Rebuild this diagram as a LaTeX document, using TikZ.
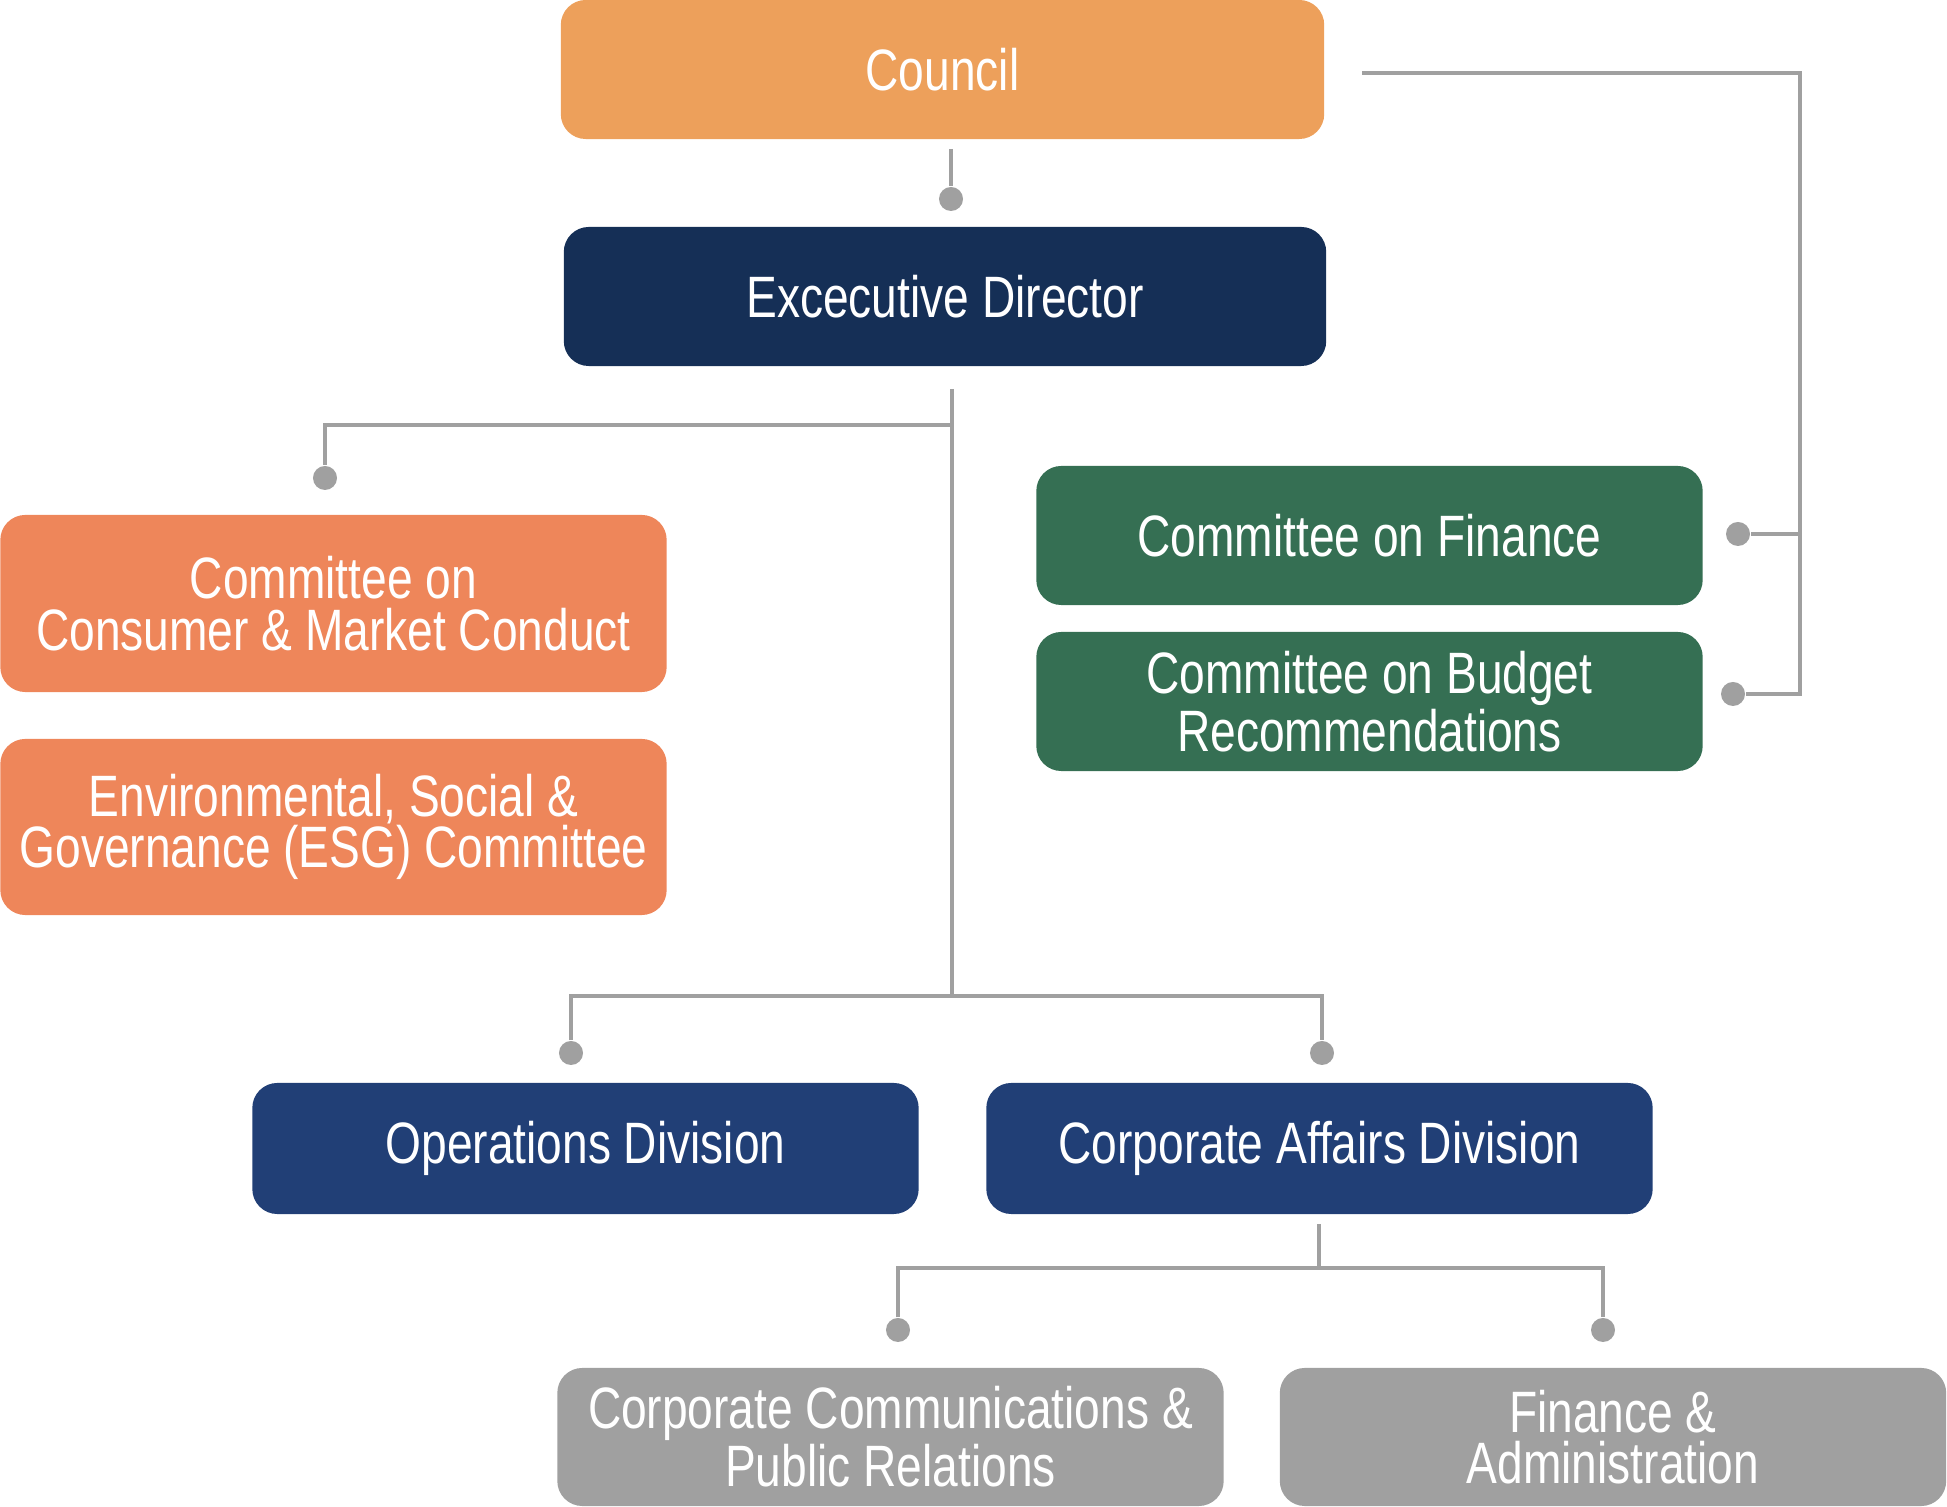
\documentclass[tikz,border=0pt]{standalone}
\usepackage{fontspec}
\setmainfont{Liberation Sans}[FakeStretch=0.79]
\usetikzlibrary{positioning}
\definecolor{councilorange}{HTML}{EDA05B}
\definecolor{execnavy}{HTML}{152F56}
\definecolor{cmteorange}{HTML}{EE865A}
\definecolor{cmtegreen}{HTML}{356F53}
\definecolor{divblue}{HTML}{213F76}
\definecolor{unitgrey}{HTML}{A0A0A0}
\definecolor{linegrey}{HTML}{A0A0A0}
\begin{document}
\begin{tikzpicture}[
		x=0.01cm, y=-0.01cm,
		box/.style={
			rounded corners=0.25cm,
			align=center,
			text=white,
			inner sep=0pt,
			minimum width=6.66cm,
			minimum height=1.39cm,
			font=\fontsize{16.6}{14.6}\selectfont
		},
		dot/.style={circle, fill=linegrey, inner sep=0pt, minimum size=0.24cm},
		link/.style={draw=linegrey, line width=1.1pt}
		]
		\useasboundingbox (0,0) rectangle (1947,1507);
		
		\node[box, fill=councilorange, minimum width=7.63cm] (council) at (942.5,69.5) {Council};
		
		\node[box, fill=execnavy, minimum width=7.62cm] (exec) at (945,296.5) {Excecutive Director};
		
		\node[box, fill=cmteorange, minimum height=1.77cm] (consumer) at (333.5,603.5)
		{Committee on\\ Consumer \& Market Conduct};
		
		\node[box, fill=cmteorange, minimum height=1.76cm] (esg) at (333.5,827)
		{Environmental, Social \&\\ Governance (ESG) Committee};
		
		\node[box, fill=cmtegreen] (finance) at (1369.5,535.5)
		{Committee on Finance};
		
		\node[box, fill=cmtegreen] (budget) at (1369.5,701.5)
		{Committee on Budget\\ Recommendations};
		
		\node[box, fill=divblue, minimum height=1.31cm] (ops) at (585.5,1148.5)
		{Operations Division};
		
		\node[box, fill=divblue, minimum height=1.31cm] (corp) at (1319.5,1148.5)
		{Corporate Affairs Division};
		
		\node[box, fill=unitgrey, minimum height=1.38cm] (comms) at (890.5,1437)
		{Corporate Communications \&\\ Public Relations};
		
		\node[box, fill=unitgrey, minimum height=1.38cm] (finadmin) at (1613,1437)
		{Finance \&\\ Administration};
		
		\node[dot] (dexec) at (951,199) {};
		\node[dot] (dconsumer) at (325,478) {};
		\node[dot] (dfinance) at (1738,534) {};
		\node[dot] (dbudget) at (1733,694) {};
		\node[dot] (dops) at (571,1053) {};
		\node[dot] (dcorp) at (1322,1053) {};
		\node[dot] (dcomms) at (898,1330) {};
		\node[dot] (dfinadmin) at (1603,1330) {};
		
		\coordinate (councilout) at (951,149);
		\coordinate (councilside) at (1362,73);
		\coordinate (execout) at (952,389);
		\coordinate (trunk) at (952,996);
		\coordinate (corpout) at (1319,1224);
		\coordinate (corpbar) at (1319,1268);
		
		\draw[link] (councilout) -- (dexec);
		\draw[link] (councilside) -- (1800,73) -- (1800,694) -- (dbudget);
		\draw[link] (1800,534) -- (dfinance);
		\draw[link] (execout) -- (trunk);
		\draw[link] (952,425) -| (dconsumer);
		\draw[link] (dops) |- (trunk) -| (dcorp);
		\draw[link] (corpout) -- (corpbar);
		\draw[link] (dcomms) |- (corpbar) -| (dfinadmin);
		
	\end{tikzpicture}
\end{document}
